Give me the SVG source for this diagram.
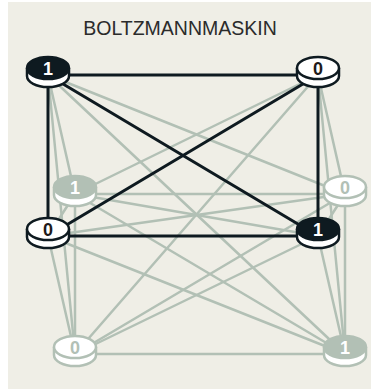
<svg xmlns="http://www.w3.org/2000/svg" width="371" height="390" viewBox="0 0 371 390">
<defs>
<style>
.bg{fill:#efeee6}
.title{font-family:"Liberation Sans",Arial,sans-serif;font-size:19.5px;fill:#2b2b2b;text-anchor:middle}
.dk{stroke:#0e1a20;stroke-width:3;fill:none;stroke-linecap:round}
.gr{stroke:#b2c0b5;stroke-width:2.5;fill:none;stroke-linecap:round}
.digit{font-family:"Liberation Sans",Arial,sans-serif;font-weight:bold;font-size:18px;text-anchor:middle}
.fs{fill:#ffffff;stroke:#0e1a20;stroke-width:2.5}
.bs{fill:#ffffff;stroke:#b2c0b5;stroke-width:2.5}
.fon{fill:#0e1a20;stroke:#0e1a20;stroke-width:2.5}
.foff{fill:#ffffff;stroke:#0e1a20;stroke-width:2.5}
.bon{fill:#b2c0b5;stroke:#b2c0b5;stroke-width:2.5}
.boff{fill:#ffffff;stroke:#b2c0b5;stroke-width:2.5}
.dw{fill:#ffffff}
.dd{fill:#1e1a1a}
.dg{fill:#b2c0b5}
</style>
</defs>
<rect class="bg" x="8" y="2" width="363" height="387"/>
<text class="title" x="180" y="35">BOLTZMANNMASKIN</text>
<g id="connectors">
<g id="grey-connectors">
<line class="gr" x1="75" y1="194" x2="345" y2="194"/>
<line class="gr" x1="75" y1="354" x2="345" y2="354"/>
<line class="gr" x1="75" y1="194" x2="75" y2="354"/>
<line class="gr" x1="345" y1="194" x2="345" y2="354"/>
<line class="gr" x1="75" y1="194" x2="345" y2="354"/>
<line class="gr" x1="345" y1="194" x2="75" y2="354"/>
<line class="gr" x1="48" y1="75" x2="75" y2="194"/>
<line class="gr" x1="48" y1="75" x2="345" y2="194"/>
<line class="gr" x1="48" y1="75" x2="75" y2="354"/>
<line class="gr" x1="48" y1="75" x2="345" y2="354"/>
<line class="gr" x1="318" y1="75" x2="75" y2="194"/>
<line class="gr" x1="318" y1="75" x2="345" y2="194"/>
<line class="gr" x1="318" y1="75" x2="75" y2="354"/>
<line class="gr" x1="318" y1="75" x2="345" y2="354"/>
<line class="gr" x1="48" y1="236" x2="75" y2="194"/>
<line class="gr" x1="48" y1="236" x2="345" y2="194"/>
<line class="gr" x1="48" y1="236" x2="75" y2="354"/>
<line class="gr" x1="48" y1="236" x2="345" y2="354"/>
<line class="gr" x1="318" y1="236" x2="75" y2="194"/>
<line class="gr" x1="318" y1="236" x2="345" y2="194"/>
<line class="gr" x1="318" y1="236" x2="75" y2="354"/>
<line class="gr" x1="318" y1="236" x2="345" y2="354"/>
</g>
</g>
<g id="node-back-tl"><path class="bs" d="M54,187 V195 A21,11 0 0 0 96,195 V187"/><ellipse class="bon" cx="75" cy="187" rx="21" ry="11"/><text class="digit dw" x="75" y="193.5">1</text></g>
<g id="node-back-tr"><path class="bs" d="M324,187 V195 A21,11 0 0 0 366,195 V187"/><ellipse class="boff" cx="345" cy="187" rx="21" ry="11"/><text class="digit dg" x="345" y="193.5">0</text></g>
<g id="node-back-bl"><path class="bs" d="M54,347 V355 A21,11 0 0 0 96,355 V347"/><ellipse class="boff" cx="75" cy="347" rx="21" ry="11"/><text class="digit dg" x="75" y="353.5">0</text></g>
<g id="node-back-br"><path class="bs" d="M324,347 V355 A21,11 0 0 0 366,355 V347"/><ellipse class="bon" cx="345" cy="347" rx="21" ry="11"/><text class="digit dw" x="345" y="353.5">1</text></g>
<g id="dark-connectors">
<line class="dk" x1="48" y1="75" x2="318" y2="75"/>
<line class="dk" x1="48" y1="236" x2="318" y2="236"/>
<line class="dk" x1="48" y1="75" x2="48" y2="236"/>
<line class="dk" x1="318" y1="75" x2="318" y2="236"/>
<line class="dk" x1="48" y1="75" x2="318" y2="236"/>
<line class="dk" x1="318" y1="75" x2="48" y2="236"/>
</g>
<g id="node-front-tl"><path class="fs" d="M27,68 V76 A21,11 0 0 0 69,76 V68"/><ellipse class="fon" cx="48" cy="68" rx="21" ry="11"/><text class="digit dw" x="48" y="74.5">1</text></g>
<g id="node-front-tr"><path class="fs" d="M297,68 V76 A21,11 0 0 0 339,76 V68"/><ellipse class="foff" cx="318" cy="68" rx="21" ry="11"/><text class="digit dd" x="318" y="74.5">0</text></g>
<g id="node-front-ml"><path class="fs" d="M27,229 V237 A21,11 0 0 0 69,237 V229"/><ellipse class="foff" cx="48" cy="229" rx="21" ry="11"/><text class="digit dd" x="48" y="235.5">0</text></g>
<g id="node-front-mr"><path class="fs" d="M297,229 V237 A21,11 0 0 0 339,237 V229"/><ellipse class="fon" cx="318" cy="229" rx="21" ry="11"/><text class="digit dw" x="318" y="235.5">1</text></g>
</svg>
